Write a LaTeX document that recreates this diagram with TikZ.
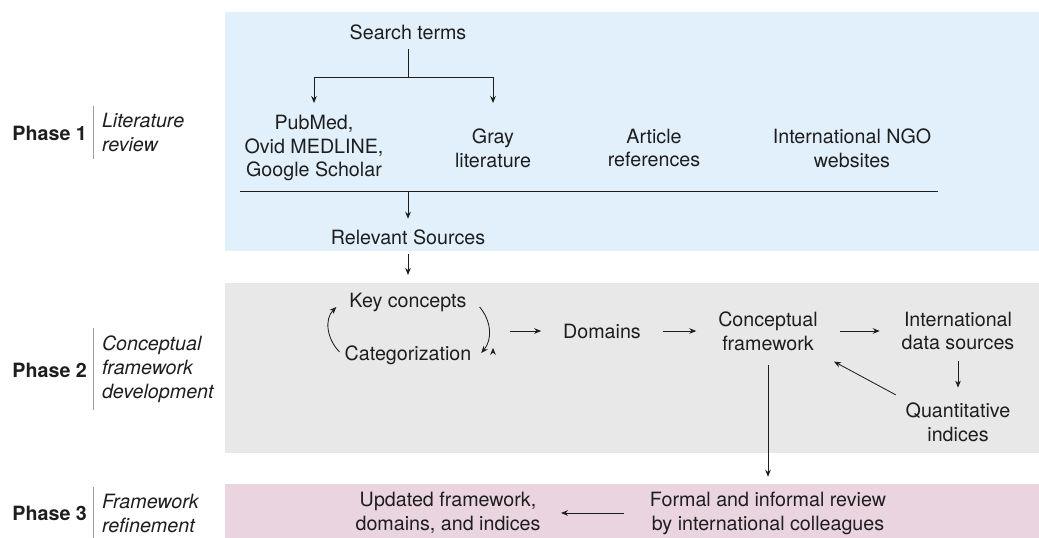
\documentclass[tikz,border=0pt]{standalone}
\usepackage{fontspec}
\setmainfont{TeX Gyre Heros}
\usetikzlibrary{positioning,arrows.meta}
\definecolor{bandblue}{RGB}{225,240,251}
\definecolor{bandgray}{RGB}{232,232,232}
\definecolor{bandpink}{RGB}{233,212,223}
\definecolor{ink}{RGB}{30,30,30}

\begin{document}
\begin{tikzpicture}[node distance=2cm, on grid,
    >={Stealth[length=5pt, width=4pt]}, line width=0.6pt,
    every node/.style={font=\fontsize{14}{17}\selectfont, text=ink},
    item/.style={align=center},
    phase/.style={font=\fontsize{14}{17}\selectfont\bfseries, anchor=east},
    stage/.style={font=\fontsize{14}{17}\selectfont\itshape, align=left, anchor=west, inner xsep=0pt, inner ysep=5pt},
    bar/.style={draw=gray!75, line width=0.6pt},
    flow/.style={->, draw=ink, shorten <=12pt, shorten >=12pt}]
    \useasboundingbox (0,0) rectangle (25.975,-13.45);
    % bands
    \fill[bandblue] (5.625,-0.3) rectangle (25.975,-6.27);
    \fill[bandgray] (5.625,-7.075) rectangle (25.975,-11.32);
    \fill[bandpink] (5.625,-12.1) rectangle (25.975,-13.45);

    % phase labels
    \node[phase](ph1) at (2.3,-3.325) {Phase 1};
    \node[stage](st1) at (2.54,-3.31) {Literature\\review};
    \node[phase](ph2) at (2.3,-9.25) {Phase 2};
    \node[stage](st2) at (2.54,-9.225) {Conceptual\\framework\\development};
    \node[phase](ph3) at (2.3,-12.825) {Phase 3};
    \node[stage](st3) at (2.54,-12.84) {Framework\\refinement};
    \draw[bar] ([xshift=-6pt]st1.north west) -- ([xshift=-6pt]st1.south west);
    \draw[bar] ([xshift=-6pt]st2.north west) -- ([xshift=-6pt]st2.south west);
    \draw[bar] ([xshift=-6pt]st3.north west) -- ([xshift=-6pt]st3.south west);

    % phase 1
    \node[item](search) at (10.2,-0.8) {Search terms};
    \node[item, below left=2.9cm and 2.35cm of search](pubmed) {PubMed,\\Ovid MEDLINE,\\Google Scholar};
    \node[item, right=4.475cm of pubmed](grey) {Gray\\literature};
    \node[item, right=4.025cm of grey](article) {Article\\references};
    \node[item, right=4.95cm of article](ngo) {International NGO\\websites};
    \node[item, below=5.125cm of search](relevant) {Relevant Sources};
    \coordinate (split) at (10.2,-1.925);
    \coordinate (tips) at (10.2,-2.575);
    \coordinate (ruleL) at (6,-4.775);
    \coordinate (ruleR) at (23.45,-4.775);
    \draw[ink, shorten <=3pt] (search) -- (split);
    \draw[->, ink] (split) -| (pubmed.north |- tips);
    \draw[->, ink] (split) -| (grey.north |- tips);
    \draw[ink] (ruleL) -- (ruleR);
    \path[->, ink] (ruleL -| relevant) edge[shorten >=4pt] (relevant);

    % phase 2
    \node[item, below=1.625cm of relevant](key) {Key concepts};
    \node[item, below=1.325cm of key](categ) {Categorization};
    \node[item](domains) at (15.05,-8.275) {Domains};
    \node[item, right=4.15cm of domains](concept) {Conceptual\\framework};
    \node[item, right=4.75cm of concept](intl) {International\\data sources};
    \node[item, below=2.275cm of intl](quant) {Quantitative\\indices};
    \coordinate (loop) at (12.325,-8.275);
    \path[->, ink] (relevant) edge[shorten <=3pt, shorten >=9pt] (key);
    \draw[->, ink] ([shift={(0,0.075)}]categ.west) to[out=135, in=-135] ([shift={(-0.2,-0.125)}]key.west);
    \draw[->, ink] ([shift={(0.2,-0.125)}]key.east) to[out=-50, in=50] ([shift={(0.12,0.05)}]categ.east);
    \path[flow] (loop) edge (domains)
        (domains) edge (concept)
        (concept) edge (intl);
    \path[->, ink] (intl) edge[shorten <=4pt, shorten >=7pt] (quant);
    \path[->, ink] (quant.north west) edge[shorten <=4pt, shorten >=9pt] (concept.south east);

    % phase 3
    \node[item, below=4.55cm of concept](review) {Formal and informal review\\by international colleagues};
    \node[item, left=8cm of review](updated) {Updated framework,\\domains, and indices};
    \path[->, ink] (concept) edge[shorten <=7pt, shorten >=7pt] (review);
    \path[->, ink] (review) edge[shorten <=15pt, shorten >=11pt] (updated);
\end{tikzpicture}
\end{document}
